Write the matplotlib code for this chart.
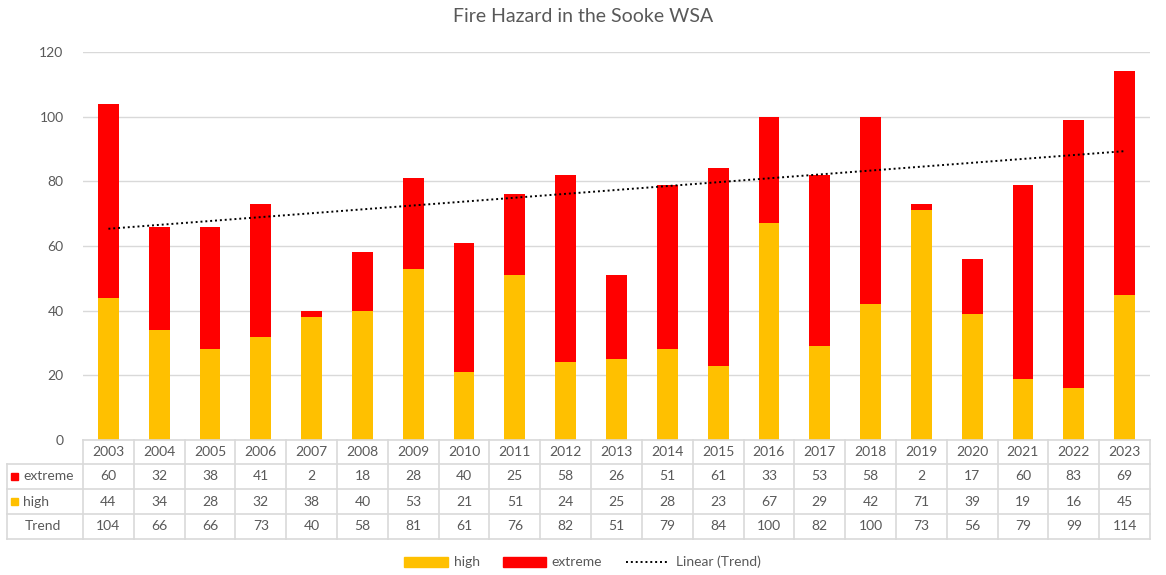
import numpy as np
import matplotlib
matplotlib.use("Agg")
import matplotlib.pyplot as plt
import matplotlib.transforms as mtrans
from matplotlib.patches import Rectangle
from matplotlib.lines import Line2D

years = [str(y) for y in range(2003, 2024)]
extreme = [60, 32, 38, 41, 2, 18, 28, 40, 25, 58, 26, 51, 61, 33, 53, 58, 2, 17, 60, 83, 69]
high = [44, 34, 28, 32, 38, 40, 53, 21, 51, 24, 25, 28, 23, 67, 29, 42, 71, 39, 19, 16, 45]
trend = [104, 66, 66, 73, 40, 58, 81, 61, 76, 82, 51, 79, 84, 100, 82, 100, 73, 56, 79, 99, 114]

C_HIGH = "#FFC000"
C_EXT = "#FF0000"
TXT = "#595959"
GRID = "#D9D9D9"

plt.rcParams['font.family'] = ['Lato', 'DejaVu Sans']

W, H = 1166, 575
fig = plt.figure(figsize=(W / 100, H / 100), dpi=100)

def fx(px):
    return px / W

def fy(py):
    return 1 - py / H

left_px, right_px, top_px, bot_px = 83, 1150, 52, 440
ax = fig.add_axes([fx(left_px), fy(bot_px), fx(right_px) - fx(left_px), fy(top_px) - fy(bot_px)])

x = np.arange(len(years))
ax.bar(x, high, width=0.41, color=C_HIGH, zorder=3)
ax.bar(x, extreme, bottom=high, width=0.41, color=C_EXT, zorder=3)

coef = np.polyfit(x, trend, 1)
ax.plot(x, np.polyval(coef, x), color="black", linestyle=(0, (1, 1.5)), linewidth=1.4, zorder=4)

ax.set_xlim(-0.5, len(years) - 0.5)
ax.set_ylim(0, 120)
ax.set_yticks(range(0, 121, 20))
ax.tick_params(axis='y', length=0, pad=14, labelsize=10, labelcolor=TXT)
ax.set_xticks([])
ax.grid(axis='y', color=GRID, linewidth=1, zorder=0)
for s in ax.spines.values():
    s.set_visible(False)

fig.text(0.5, fy(16), "Fire Hazard in the Sooke WSA", ha="center", va="center", fontsize=14, color=TXT)

# data table
blend = mtrans.blended_transform_factory(ax.transData, fig.transFigure)
row_edges = [440, 464, 489, 514, 539]
lab_left = 7
n = len(years)
lw = 1.2
# horizontal lines
for i, ry in enumerate(row_edges):
    if i == 0:
        fig.add_artist(Line2D([-0.5, n - 0.5], [fy(ry)] * 2, transform=blend, color=GRID, lw=lw))
    else:
        fig.add_artist(Line2D([fx(lab_left), fx(right_px)], [fy(ry)] * 2, transform=fig.transFigure, color=GRID, lw=lw))
# vertical lines
for k in range(n + 1):
    fig.add_artist(Line2D([k - 0.5, k - 0.5], [fy(440), fy(539)], transform=blend, color=GRID, lw=lw))
fig.add_artist(Line2D([fx(lab_left)] * 2, [fy(464), fy(539)], transform=fig.transFigure, color=GRID, lw=lw))

rows = [years, extreme, high, trend]
for r, vals in enumerate(rows):
    cy = fy((row_edges[r] + row_edges[r + 1]) / 2)
    for k, v in enumerate(vals):
        fig.text(k, cy, str(v), transform=blend, ha="center", va="center", fontsize=10, color=TXT)

labels = [("extreme", C_EXT), ("high", C_HIGH), ("Trend", None)]
for r, (lab, col) in enumerate(labels, start=1):
    cy_px = (row_edges[r] + row_edges[r + 1]) / 2
    if col:
        fig.add_artist(Rectangle((fx(11), fy(cy_px + 3.5)), fx(7), 7 / H, transform=fig.transFigure, color=col))
        fig.text(fx(23), fy(cy_px), lab, ha="left", va="center", fontsize=10, color=TXT)
    else:
        fig.text(fx(25), fy(cy_px), lab, ha="left", va="center", fontsize=10, color=TXT)

# legend
ly = fy(562)
fig.add_artist(Rectangle((fx(404), ly - 5 / H), fx(44), 10 / H, transform=fig.transFigure, color=C_HIGH))
fig.text(fx(454), ly, "high", ha="left", va="center", fontsize=10, color=TXT)
fig.add_artist(Rectangle((fx(503), ly - 5 / H), fx(43), 10 / H, transform=fig.transFigure, color=C_EXT))
fig.text(fx(551), ly, "extreme", ha="left", va="center", fontsize=10, color=TXT)
fig.add_artist(Line2D([fx(626), fx(669)], [ly, ly], transform=fig.transFigure, color="black", linestyle=(0, (1, 1.5)), lw=1.4))
fig.text(fx(676), ly, "Linear (Trend)", ha="left", va="center", fontsize=10, color=TXT)

fig.savefig("out.png", dpi=100)
